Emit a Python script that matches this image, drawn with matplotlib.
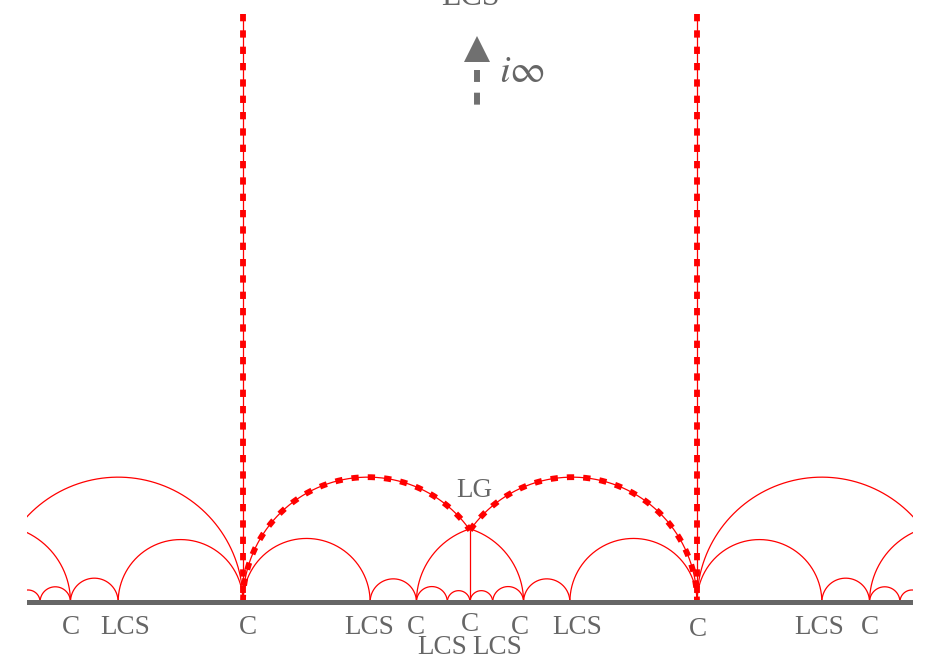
import numpy as np
import matplotlib
matplotlib.use("Agg")
import matplotlib.pyplot as plt

plt.rcParams['mathtext.fontset'] = 'stix'

# ---------------- data (units: the two walls sit at x = -1/2 and +1/2) ----------------
# full semicircles, given by their endpoints on the real axis
semicircles = [
    (-1.0, -0.947), (-0.947, -0.88), (-0.88, -0.775), (-0.775, -0.5),
    (-0.5, -0.22), (-0.22, -0.118), (-0.118, -0.05), (-0.05, 0.0),
    (0.0, 0.05), (0.05, 0.118), (0.118, 0.22), (0.22, 0.5),
    (0.5, 0.775), (0.775, 0.88), (0.88, 0.947), (0.947, 1.0),
    (-1.05, -0.5), (0.5, 1.05), (-1.22, -0.88), (0.88, 1.22),
]
# partial geodesics: (endpoint a, endpoint b, drawn from x0, to x1)
partial_arcs = [
    (-0.118, 0.22, -0.118, 0.0),
    (-0.22, 0.118, 0.0, 0.118),
]
# boundary of the fundamental domain (thick dashed)
boundary_arcs = [
    (-0.5, 0.05, -0.5, 0.0),
    (-0.05, 0.5, 0.0, 0.5),
]
wall_x = [-0.5, 0.5]
wall_top = 1.295

# cusp labels: text, x, baseline y
label_text = ["C", "LCS", "C", "LCS", "C", "LCS", "C", "LCS", "C", "LCS", "C", "LCS", "C"]
label_x = [-0.879, -0.76, -0.489, -0.222, -0.119, -0.062, 0.0, 0.059, 0.11, 0.236, 0.502, 0.769, 0.881]
label_y = [-0.0694, -0.0705, -0.0694, -0.0705, -0.0705, -0.1145, -0.0639, -0.1145, -0.0705, -0.0705, -0.0749, -0.0705, -0.0705]

lg_pos = (0.009, 0.2313)
arrow_x = 0.0154
arrow_head_y = 1.217
arrow_stem = (1.172, 1.095)
iinf_pos = (0.064, 1.145)
top_label_pos = (0.0, 1.315)

RED = "#ff0000"
GRAY = "#666666"

# ---------------- figure ----------------
fig = plt.figure(figsize=(9.3, 6.6), dpi=100)
ax = fig.add_axes([27 / 930, 0, 886 / 930, 1])
ax.set_xlim(-443 / 454, 443 / 454)
ax.set_ylim(-58 / 454, 602 / 454)
ax.axis("off")


def arc_points(a, b, x0=None, x1=None, n=400):
    c = 0.5 * (a + b)
    r = 0.5 * (b - a)
    if x0 is None:
        x0, x1 = a, b
    t0 = np.arccos(np.clip((x1 - c) / r, -1, 1))
    t1 = np.arccos(np.clip((x0 - c) / r, -1, 1))
    t = np.linspace(t1, t0, n)
    return c + r * np.cos(t), r * np.sin(t)


thin = dict(color=RED, lw=0.9, solid_capstyle="butt", zorder=2)
thick = dict(color=RED, lw=4.2, dashes=(1.25, 1.55), dash_capstyle="butt", zorder=3)

for a, b in semicircles:
    x, y = arc_points(a, b)
    ax.plot(x, y, **thin)

for a, b, x0, x1 in partial_arcs:
    x, y = arc_points(a, b, x0, x1)
    ax.plot(x, y, **thin)

lg_h = None
for a, b, x0, x1 in boundary_arcs:
    x, y = arc_points(a, b, x0, x1)
    ax.plot(x, y, **thin)
    ax.plot(x, y, **thick)
    c, r = 0.5 * (a + b), 0.5 * (b - a)
    lg_h = np.sqrt(r ** 2 - c ** 2)

# vertical from LG down to the real axis
ax.plot([0, 0], [0, lg_h], **thin)

for wx in wall_x:
    ax.plot([wx, wx], [wall_top, 0], **thin)
    ax.plot([wx, wx], [wall_top, 0], **thick)

# real axis
ax.plot([-1.2, 1.2], [0, 0], color=GRAY, lw=3.6, solid_capstyle="butt", zorder=4)

# labels
serif = ["Liberation Serif", "DejaVu Serif"]
for t, x, y in zip(label_text, label_x, label_y):
    ax.text(x, y, t, ha="center", va="baseline", fontsize=19.5, color=GRAY, family=serif)
ax.text(lg_pos[0], lg_pos[1], "LG", ha="center", va="baseline", fontsize=19.5, color=GRAY, family=serif)
ax.text(top_label_pos[0], top_label_pos[1], "LCS", ha="center", va="baseline", fontsize=23,
        color=GRAY, family=serif, clip_on=False)

# arrow towards i-infinity
ax.plot([arrow_x], [arrow_head_y], marker="^", ms=18.7, color="#707070", mew=0, zorder=5)
ax.plot([arrow_x, arrow_x], list(arrow_stem), color="#707070", lw=4.3,
        dashes=(2.0, 1.8), dash_capstyle="butt", zorder=5)
ax.text(iinf_pos[0], iinf_pos[1], r"$i\infty$", ha="left", va="baseline", fontsize=28, color=GRAY)

fig.savefig("out.png", dpi=100)
